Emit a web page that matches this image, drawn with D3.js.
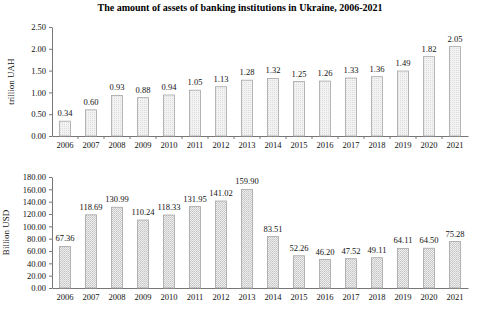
<!DOCTYPE html>
<html>
<head>
<meta charset="utf-8">
<script src="https://cdn.jsdelivr.net/npm/d3@7"></script>
<style>
  body { margin: 0; background: #fff; }
  svg { display: block; font-family: "Liberation Serif", "Times New Roman", serif; }
</style>
</head>
<body>
<div id="chart"></div>
<script>
var years = ["2006","2007","2008","2009","2010","2011","2012","2013","2014","2015","2016","2017","2018","2019","2020","2021"]
var assetsUAH = [0.34, 0.60, 0.93, 0.88, 0.94, 1.05, 1.13, 1.28, 1.32, 1.25, 1.26, 1.33, 1.36, 1.49, 1.82, 2.05]
var assetsUSD = [67.36, 118.69, 130.99, 110.24, 118.33, 131.95, 141.02, 159.90, 83.51, 52.26, 46.20, 47.52, 49.11, 64.11, 64.50, 75.28]
var uahTicks = [0, 0.5, 1, 1.5, 2, 2.5]
var usdTicks = [0, 20, 40, 60, 80, 100, 120, 140, 160, 180]

var width = 480, height = 309

var svg = d3.select("#chart").append("svg")
  .attr("width", width).attr("height", height)

var defs = svg.append("defs")
// light dotted fill for the top chart
var dots = defs.append("pattern").attr("id", "dots")
  .attr("patternUnits", "userSpaceOnUse").attr("width", 2).attr("height", 2)
dots.append("rect").attr("width", 2).attr("height", 2).attr("fill", "#f3f3f3")
dots.append("rect").attr("width", 1).attr("height", 1).attr("fill", "#dcdcdc")
// fine cross hatching for the bottom chart
var hatch = defs.append("pattern").attr("id", "hatch")
  .attr("patternUnits", "userSpaceOnUse").attr("width", 2).attr("height", 2)
hatch.append("rect").attr("width", 2).attr("height", 2).attr("fill", "#eeeeee")
hatch.append("rect").attr("x", 0).attr("y", 1).attr("width", 1).attr("height", 1).attr("fill", "#c4c4c4")
hatch.append("rect").attr("x", 1).attr("y", 0).attr("width", 1).attr("height", 1).attr("fill", "#d0d0d0")

svg.append("text")
  .attr("x", 240).attr("y", 11)
  .attr("text-anchor", "middle")
  .attr("font-size", 10).attr("font-weight", "bold")
  .text("The amount of assets of banking institutions in Ukraine, 2006-2021")

function drawPanel(opts) {
  var x = d3.scaleBand().domain(years).range([52, 468]).paddingInner(0.58).paddingOuter(0.29)
  var y = d3.scaleLinear().domain(opts.domain).range([opts.bottom, opts.top])
  var g = svg.append("g")

  var yAxis = g.append("g")
    .attr("transform", "translate(52,0)")
    .call(d3.axisLeft(y).tickValues(opts.ticks).tickFormat(d3.format(".2f")).tickSize(3).tickSizeOuter(0))
  yAxis.selectAll("text").attr("font-size", 8.5).attr("fill", "#111").attr("font-family", "Liberation Serif")
  yAxis.selectAll("line, path").attr("stroke", "#777")

  var xAxis = g.append("g")
    .attr("transform", "translate(0," + opts.bottom + ")")
    .call(d3.axisBottom(x).tickSize(0).tickSizeOuter(0).tickPadding(opts.tickPad))
  xAxis.select(".domain").attr("stroke", "#777")
  xAxis.selectAll("text").attr("font-size", 8.5).attr("fill", "#111").attr("font-family", "Liberation Serif")
  if (opts.bandTicks) {
    var step = x.step()
    g.append("g").selectAll("line")
      .data(years.slice(1))
      .enter().append("line")
        .attr("x1", function (d) { return x(d) - step * 0.29 }).attr("x2", function (d) { return x(d) - step * 0.29 })
        .attr("y1", opts.bottom).attr("y2", opts.bottom + 3)
        .attr("stroke", "#777")
  }

  g.append("g").selectAll("rect")
    .data(opts.values)
    .enter().append("rect")
      .attr("x", function (d, i) { return x(years[i]) })
      .attr("y", function (d) { return y(d) })
      .attr("width", x.bandwidth())
      .attr("height", function (d) { return opts.bottom - y(d) })
      .attr("fill", opts.fill)
      .attr("stroke", "#a5a5a5").attr("stroke-width", 0.8)

  g.append("g").selectAll("text")
    .data(opts.values)
    .enter().append("text")
      .attr("x", function (d, i) { return x(years[i]) + x.bandwidth() / 2 })
      .attr("y", function (d) { return y(d) - 5 })
      .attr("text-anchor", "middle")
      .attr("font-size", 8.5).attr("fill", "#111")
      .text(function (d) { return d.toFixed(2) })

  g.append("text")
    .attr("transform", "translate(" + opts.labelX + "," + ((opts.top + opts.bottom) / 2) + ") rotate(-90)")
    .attr("text-anchor", "middle")
    .attr("font-size", 9).attr("fill", "#111")
    .text(opts.label)
}

drawPanel({ domain: [0, 2.5], ticks: uahTicks, top: 27, bottom: 136, values: assetsUAH,
  fill: "url(#dots)", label: "trillion UAH", labelX: 14, tickPad: 6, bandTicks: true })
drawPanel({ domain: [0, 180], ticks: usdTicks, top: 177, bottom: 288, values: assetsUSD,
  fill: "url(#hatch)", label: "Billion USD", labelX: 9, tickPad: 6, bandTicks: false })
</script>
</body>
</html>
